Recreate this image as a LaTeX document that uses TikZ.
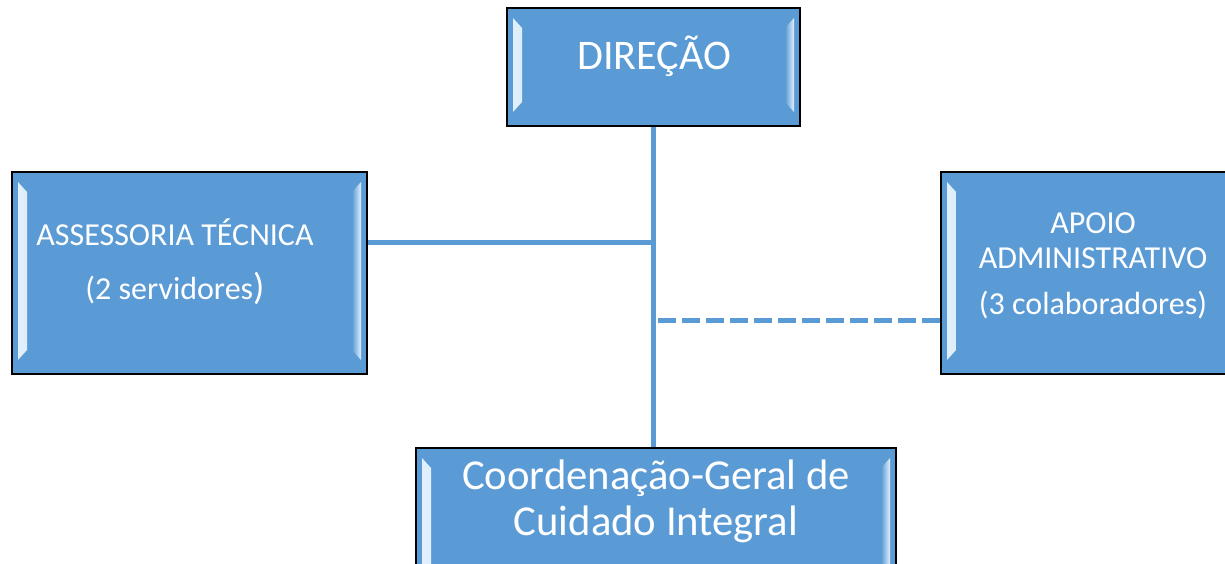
\documentclass[tikz,border=0pt]{standalone}
\usepackage{fontspec}
\setmainfont{Carlito}
\definecolor{boxblue}{HTML}{5B9BD5}
\definecolor{bevel}{HTML}{E3F1FC}
\tikzset{
  orgbox/.style={rectangle, draw=black, line width=1.4pt, fill=boxblue, inner sep=0pt,
    path picture={
      \shade[left color=bevel, right color=boxblue]
        ([shift={(6,10)}]path picture bounding box.north west) --
        ([shift={(15,20)}]path picture bounding box.north west) --
        ([shift={(15,-24)}]path picture bounding box.south west) --
        ([shift={(6,-14)}]path picture bounding box.south west) -- cycle;
      \shade[left color=boxblue, right color=bevel]
        ([shift={(-6,10)}]path picture bounding box.north east) --
        ([shift={(-15,20)}]path picture bounding box.north east) --
        ([shift={(-15,-24)}]path picture bounding box.south east) --
        ([shift={(-6,-14)}]path picture bounding box.south east) -- cycle;
    }},
  boxtext/.style={text=white, align=center, inner sep=0pt},
  link/.style={boxblue, line width=3.75pt},
  dashlink/.style={link, dash pattern=on 13.5pt off 4.5pt}
}
\begin{document}
\begin{tikzpicture}[x=0.75pt,y=-0.75pt]
			\clip (0,0) rectangle (1225,564);

			% Kaesten
			\node (dir) [orgbox, minimum width=219.75pt, minimum height=88.5pt] at (653.5,67) {};
			\node (ast) [orgbox, minimum width=266.25pt, minimum height=151.5pt] at (189.5,273) {};
			\node (apoio) [orgbox, minimum width=228pt, minimum height=151.5pt] at (1093,273) {};
			\node (coord) [orgbox, minimum width=360pt, minimum height=105pt] at (656,518) {};

			% Beschriftungen
			\node (dirtext) [boxtext, font=\fontsize{31.6}{37}\selectfont] at (654,56.5) {DIREÇÃO};
			\node (asttext) [boxtext, font=\fontsize{24}{40.5}\selectfont] at (175,262)
				{ASSESSORIA TÉCNICA\\(2 servidores{\fontsize{28}{28}\selectfont)}};
			\node (apoiotext) [boxtext, font=\fontsize{24}{26}\selectfont] at (1093,265.5)
				{APOIO\\ADMINISTRATIVO\\[8.5pt](3 colaboradores)};
			\node (coordtext) [boxtext, font=\fontsize{32}{34.5}\selectfont] at (656,501)
				{Coordenação-Geral de\\Cuidado Integral};

			% Verbindungen
			\coordinate (jl) at (654,242);
			\coordinate (jr) at (658,320);
			\draw[link] (dir.south) -- (dir.south |- coord.north);
			\draw[link] (ast.east |- jl) -- (jl);
			\draw[dashlink] (jr) -- (apoio.west |- jr);

\end{tikzpicture}
\end{document}
